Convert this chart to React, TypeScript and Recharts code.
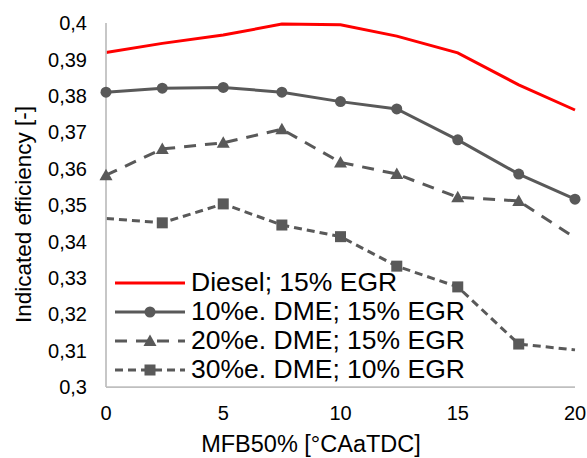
import { LineChart, Line, XAxis, YAxis, Legend, Label } from 'recharts';

const mfb50 = [0, 2.4, 5, 7.5, 10, 12.4, 15, 17.6, 20];
const diesel15 = [0.3919, 0.3944, 0.3967, 0.3997, 0.3995, 0.3964, 0.3918, 0.383, 0.3761];
const dme10egr15 = [0.381, 0.3821, 0.3823, 0.381, 0.3784, 0.3764, 0.3679, 0.3585, 0.3516];
const dme20egr15 = [0.3582, 0.3654, 0.3671, 0.3708, 0.3617, 0.3585, 0.3521, 0.3511, 0.341];
const dme30egr10 = [0.3463, 0.3451, 0.3503, 0.3445, 0.3413, 0.3332, 0.3275, 0.3118, 0.3102];

const xTicks = [0, 5, 10, 15, 20];
const yTicks = [0.3, 0.31, 0.32, 0.33, 0.34, 0.35, 0.36, 0.37, 0.38, 0.39, 0.4];

const names = [
  'Diesel; 15% EGR',
  '10%e. DME; 15% EGR',
  '20%e. DME; 15% EGR',
  '30%e. DME; 10% EGR',
];

const data = mfb50.map((x, i) => ({
  x,
  diesel: diesel15[i],
  dme10: dme10egr15[i],
  dme20: dme20egr15[i],
  dme30: dme30egr10[i],
}));

const FONT = '"Liberation Sans", Arial, sans-serif';
const GREY = '#595959';
const RED = '#ff0000';

const fmt = (v: number) => String(Number(v.toFixed(2))).replace('.', ',');

function Marker({ kind, cx, cy }: { kind: string; cx: number; cy: number }) {
  if (kind === 'circle') return <circle cx={cx} cy={cy} r={5.5} fill={GREY} />;
  if (kind === 'triangle')
    return (
      <polygon
        points={`${cx},${cy - 6.5} ${cx + 6.5},${cy + 5} ${cx - 6.5},${cy + 5}`}
        fill={GREY}
      />
    );
  if (kind === 'square')
    return <rect x={cx - 5.5} y={cy - 5.5} width={11} height={11} fill={GREY} />;
  return null;
}

// hidden: indexes with no marker, -1 = last point
const makeDot = (kind: string, hidden: number[]) => (p: any) => {
  const last = data.length - 1;
  const idx = p.index === last ? -1 : p.index;
  if (hidden.includes(idx) || p.cx == null) return <g key={`d${kind}${p.index}`} />;
  return (
    <g key={`d${kind}${p.index}`}>
      <Marker kind={kind} cx={p.cx} cy={p.cy} />
    </g>
  );
};

const legendItems = [
  { name: names[0], color: RED, dash: undefined, marker: 'none' },
  { name: names[1], color: GREY, dash: undefined, marker: 'circle' },
  { name: names[2], color: GREY, dash: '12 9', marker: 'triangle' },
  { name: names[3], color: GREY, dash: '8 5', marker: 'square' },
];

function LegendBox() {
  return (
    <div style={{ fontFamily: FONT, fontSize: 26.5, color: '#000' }}>
      {legendItems.map((it) => (
        <div key={it.name} style={{ display: 'flex', alignItems: 'center', height: 29 }}>
          <svg width={70} height={20} style={{ marginRight: 6 }}>
            <line x1={0} y1={10} x2={70} y2={10} stroke={it.color} strokeWidth={3} strokeDasharray={it.dash} />
            <Marker kind={it.marker} cx={35} cy={10} />
          </svg>
          <span style={{ whiteSpace: 'nowrap' }}>{it.name}</span>
        </div>
      ))}
    </div>
  );
}

export default function App() {
  return (
    <div style={{ position: 'absolute', left: 0, top: 0, background: '#fff' }}>
      <LineChart
        width={587}
        height={458}
        data={data}
        margin={{ top: 23, right: 12, left: 0, bottom: 0 }}
      >
        <XAxis
          dataKey="x"
          type="number"
          domain={[0, 20]}
          ticks={xTicks}
          tickLine={false}
          tickSize={0}
          tickMargin={19}
          height={71}
          axisLine={{ stroke: '#bfbfbf', strokeWidth: 1.75 }}
          tick={{ fill: '#000', fontSize: 20, fontFamily: FONT }}
        >
          <Label
            content={(p: any) => {
              const vb = p.viewBox;
              return (
                <text x={vb.x + 205} y={vb.y + 65} textAnchor="middle" fontSize={23.5} fontFamily={FONT} fill="#000">
                  MFB50% [°CAaTDC]
                </text>
              );
            }}
          />
        </XAxis>
        <YAxis
          type="number"
          domain={[0.3, 0.4]}
          ticks={yTicks}
          width={106}
          tickLine={false}
          tickSize={0}
          tickMargin={19}
          tickFormatter={fmt}
          axisLine={{ stroke: '#bfbfbf', strokeWidth: 1.75 }}
          tick={{ fill: '#000', fontSize: 20, fontFamily: FONT }}
        >
          <Label
            content={(p: any) => {
              const vb = p.viewBox;
              const x = vb.x + 31;
              const y = vb.y + vb.height / 2 + 9.5;
              return (
                <text x={x} y={y} transform={`rotate(-90, ${x}, ${y})`} textAnchor="middle" fontSize={22.5} fontFamily={FONT} fill="#000">
                  Indicated efficiency [-]
                </text>
              );
            }}
          />
        </YAxis>
        <Legend
          layout="vertical"
          align="center"
          verticalAlign="middle"
          content={() => <LegendBox />}
          wrapperStyle={{ left: 115, top: 268, width: 400, height: 120 }}
        />
        <Line dataKey="diesel" name={names[0]} stroke={RED} strokeWidth={3} dot={false} isAnimationActive={false} />
        <Line dataKey="dme10" name={names[1]} stroke={GREY} strokeWidth={3} dot={makeDot('circle', [])} isAnimationActive={false} />
        <Line
          dataKey="dme20"
          name={names[2]}
          stroke={GREY}
          strokeWidth={3}
          strokeDasharray="12 9"
          dot={makeDot('triangle', [-1])}
          isAnimationActive={false}
        />
        <Line
          dataKey="dme30"
          name={names[3]}
          stroke={GREY}
          strokeWidth={3}
          strokeDasharray="8 5"
          dot={makeDot('square', [0, -1])}
          isAnimationActive={false}
        />
      </LineChart>
    </div>
  );
}
